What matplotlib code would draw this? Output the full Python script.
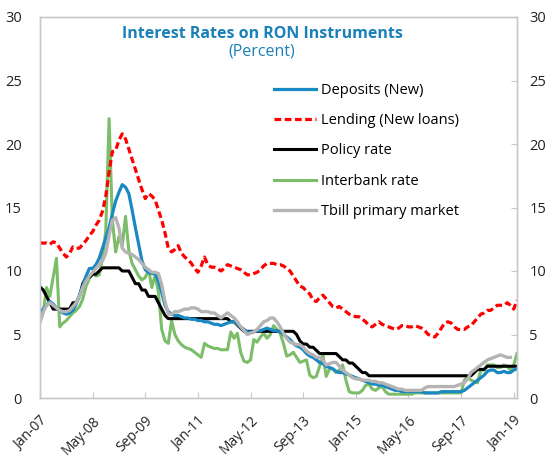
import numpy as np
import matplotlib
matplotlib.use("Agg")
import matplotlib.pyplot as plt

plt.rcParams["font.family"] = ["Open Sans", "DejaVu Sans"]

# Monthly observations, Jan-2007 .. Feb-2019
deposits = [
    6.8, 7.0, 7.3, 7.6, 7.4, 7.1, 6.9, 6.7, 6.6, 6.7, 6.9, 7.4, 8.1, 8.8, 9.6, 10.2,
    10.2, 10.5, 11.0, 11.8, 12.6, 13.4, 14.5, 15.5, 16.2, 16.8, 16.6, 16.1, 14.8, 13.4, 12.1, 10.8,
    10.1, 9.9, 9.8, 9.8, 9.2, 8.3, 7.3, 6.8, 6.6, 6.5, 6.5, 6.4, 6.3, 6.3, 6.2, 6.2,
    6.1, 6.1, 6.0, 6.0, 5.9, 5.8, 5.8, 5.7, 5.8, 5.9, 6.0, 6.0, 5.8, 5.6, 5.4, 5.2,
    5.2, 5.2, 5.3, 5.3, 5.4, 5.5, 5.4, 5.3, 5.3, 5.2, 5.0, 4.8, 4.6, 4.3, 4.1, 4.0,
    3.8, 3.5, 3.3, 3.2, 3.0, 2.8, 2.7, 2.5, 2.4, 2.3, 2.1, 2.0, 2.0, 1.9, 1.8, 1.7,
    1.6, 1.5, 1.4, 1.3, 1.2, 1.1, 1.1, 1.0, 1.0, 0.9, 0.8, 0.7, 0.6, 0.6, 0.5, 0.5,
    0.5, 0.5, 0.5, 0.5, 0.5, 0.4, 0.4, 0.4, 0.4, 0.4, 0.5, 0.5, 0.5, 0.5, 0.5, 0.5,
    0.5, 0.6, 0.8, 1.0, 1.2, 1.4, 1.6, 1.8, 2.1, 2.2, 2.2, 2.0, 2.0, 2.1, 2.0, 2.0,
    2.2, 2.3,
]

lending = [
    12.2, 12.2, 12.2, 12.1, 12.3, 12.2, 11.8, 11.4, 11.1, 11.4, 11.9, 11.8, 11.8, 12.1, 12.4, 12.8,
    13.1, 13.6, 14.0, 14.7, 15.9, 17.8, 19.4, 19.5, 20.3, 20.8, 20.4, 19.6, 18.8, 18.0, 17.2, 16.4,
    15.7, 16.1, 15.9, 15.6, 14.8, 14.0, 13.0, 11.8, 11.5, 11.7, 12.0, 11.4, 11.1, 10.9, 10.6, 10.2,
    9.9, 10.4, 11.1, 10.5, 10.3, 10.3, 10.2, 10.0, 10.2, 10.5, 10.4, 10.3, 10.2, 10.1, 9.9, 9.7,
    9.7, 9.8, 9.9, 10.1, 10.4, 10.6, 10.6, 10.6, 10.5, 10.5, 10.4, 10.2, 10.0, 9.6, 9.2, 8.8,
    8.7, 8.4, 8.2, 7.7, 7.6, 7.9, 8.1, 7.8, 7.5, 7.2, 7.1, 7.2, 7.0, 6.8, 6.6, 6.5,
    6.4, 6.4, 6.2, 6.0, 5.7, 5.6, 5.8, 6.0, 5.8, 5.7, 5.6, 5.5, 5.4, 5.5, 5.7, 5.7,
    5.6, 5.6, 5.7, 5.6, 5.5, 5.3, 5.0, 4.9, 4.8, 5.1, 5.5, 5.9, 6.0, 5.9, 5.6, 5.4,
    5.4, 5.4, 5.6, 5.7, 6.0, 6.3, 6.6, 6.7, 6.9, 6.9, 7.1, 7.3, 7.3, 7.3, 7.5, 7.3,
    7.0, 7.7,
]

policy = [
    8.75, 8.5, 8.0, 7.5, 7.0, 7.0, 7.0, 7.0, 7.0, 7.0, 7.5, 7.5, 8.0, 9.0, 9.5, 9.5,
    9.75, 9.75, 10.0, 10.25, 10.25, 10.25, 10.25, 10.25, 10.25, 10.0, 10.0, 10.0, 9.5, 9.0, 9.0, 8.5,
    8.5, 8.0, 8.0, 8.0, 7.5, 7.0, 6.5, 6.25, 6.25, 6.25, 6.25, 6.25, 6.25, 6.25, 6.25, 6.25,
    6.25, 6.25, 6.25, 6.25, 6.25, 6.25, 6.25, 6.25, 6.25, 6.25, 6.0, 6.0, 5.75, 5.5, 5.25, 5.25,
    5.25, 5.25, 5.25, 5.25, 5.25, 5.25, 5.25, 5.25, 5.25, 5.25, 5.25, 5.25, 5.25, 5.25, 5.0, 4.5,
    4.25, 4.25, 4.0, 4.0, 3.75, 3.5, 3.5, 3.5, 3.5, 3.5, 3.5, 3.25, 3.0, 3.0, 2.75, 2.75,
    2.5, 2.25, 2.0, 2.0, 1.75, 1.75, 1.75, 1.75, 1.75, 1.75, 1.75, 1.75, 1.75, 1.75, 1.75, 1.75,
    1.75, 1.75, 1.75, 1.75, 1.75, 1.75, 1.75, 1.75, 1.75, 1.75, 1.75, 1.75, 1.75, 1.75, 1.75, 1.75,
    1.75, 1.75, 1.75, 1.75, 2.0, 2.25, 2.25, 2.25, 2.5, 2.5, 2.5, 2.5, 2.5, 2.5, 2.5, 2.5,
    2.5, 2.5,
]

interbank = [
    6.0, 6.8, 8.7, 8.0, 9.5, 11.0, 5.6, 5.9, 6.1, 6.4, 6.7, 6.9, 7.2, 7.8, 8.8, 9.4,
    9.8, 9.6, 9.7, 11.0, 13.2, 22.0, 14.0, 11.5, 12.7, 12.0, 14.3, 11.6, 10.6, 10.1, 9.6, 9.3,
    9.5, 10.1, 8.7, 9.7, 8.3, 5.4, 4.5, 4.3, 6.1, 5.0, 4.5, 4.2, 4.0, 3.9, 3.8, 3.6,
    3.4, 3.2, 4.3, 4.1, 4.0, 3.9, 3.9, 3.8, 3.8, 3.8, 5.2, 4.7, 5.1, 3.6, 2.9, 2.8,
    3.0, 4.6, 4.4, 4.8, 5.1, 4.7, 5.0, 5.7, 5.4, 5.1, 4.3, 3.3, 3.4, 3.6, 3.2, 2.8,
    2.9, 3.0, 1.8, 1.6, 1.7, 2.5, 3.4, 1.7, 2.3, 2.3, 2.0, 2.2, 2.6, 1.4, 0.5, 0.4,
    0.4, 0.4, 0.6, 1.0, 1.1, 0.7, 0.6, 0.8, 0.9, 0.5, 0.3, 0.3, 0.3, 0.3, 0.3, 0.3,
    0.3, 0.3, 0.4, 0.4, 0.4, 0.4, 0.4, 0.4, 0.4, 0.4, 0.4, 0.4, 0.4, 0.4, 0.4, 0.4,
    0.4, 1.4, 1.7, 1.4, 1.3, 1.2, 2.2, 2.2, 2.6, 2.6, 2.6, 2.4, 2.4, 2.6, 2.5, 2.2,
    2.6, 3.5,
]

tbill = [
    6.0, 6.8, 7.3, 7.5, 7.3, 7.1, 6.9, 6.8, 6.8, 6.9, 7.2, 7.5, 8.0, 8.7, 9.2, 9.6,
    9.9, 10.2, 10.5, 10.8, 11.4, 12.8, 14.0, 14.2, 13.4, 11.8, 11.5, 11.4, 11.3, 11.1, 10.9, 10.6,
    10.3, 10.1, 9.9, 9.9, 9.8, 8.9, 7.6, 6.6, 6.6, 6.8, 6.8, 6.9, 7.0, 7.0, 7.1, 7.1,
    7.0, 6.8, 6.8, 6.8, 6.7, 6.7, 6.5, 6.3, 6.5, 6.7, 6.5, 6.3, 6.0, 5.6, 5.3, 5.0,
    5.1, 5.2, 5.4, 5.7, 6.0, 6.1, 6.3, 6.3, 6.0, 5.6, 5.1, 4.7, 4.4, 4.3, 4.2, 4.2,
    4.0, 3.7, 3.5, 3.4, 3.2, 3.2, 3.0, 2.6, 2.7, 2.8, 2.8, 2.5, 2.2, 2.0, 1.8, 1.6,
    1.5, 1.5, 1.4, 1.4, 1.4, 1.3, 1.3, 1.2, 1.2, 1.1, 1.0, 0.9, 0.8, 0.7, 0.7, 0.6,
    0.6, 0.6, 0.6, 0.6, 0.6, 0.8, 0.9, 0.9, 0.9, 0.9, 0.9, 0.9, 0.9, 0.9, 0.9, 1.0,
    1.1, 1.2, 1.5, 2.0, 2.2, 2.4, 2.6, 2.8, 3.0, 3.1, 3.2, 3.3, 3.4, 3.3, 3.2, 3.2,
    np.nan, np.nan,
]

series_labels = ["Deposits (New)", "Lending (New loans)", "Policy rate",
                 "Interbank rate", "Tbill primary market"]
x_tick_labels = ["Jan-07", "May-08", "Sep-09", "Jan-11", "May-12",
                 "Sep-13", "Jan-15", "May-16", "Sep-17", "Jan-19"]
y_ticks = [0, 5, 10, 15, 20, 25, 30]

months = np.arange(len(deposits))
title_color = "#1a80b9"
frame_color = "#c8c8c8"
text_color = "#222222"

fig = plt.figure(figsize=(5.5, 4.58), dpi=100)
ax = fig.add_axes([40 / 550, 1 - 398 / 458, 477 / 550, 381 / 458])

ax.plot(months, deposits, color="#1a88c2", lw=2.3, label=series_labels[0], zorder=4)
ax.plot(months, lending, color="#ff0000", lw=2.3, ls=(0, (2.1, 1.1)),
        label=series_labels[1], zorder=3)
ax.plot(months, policy, color="#000000", lw=2.2, label=series_labels[2], zorder=3)
ax.plot(months, interbank, color="#7bbd68", lw=2.2, label=series_labels[3], zorder=2)
ax.plot(months, tbill, color="#b4b4b4", lw=2.4, label=series_labels[4], zorder=5)

ax.set_xlim(0, len(months) - 1)
ax.set_ylim(0, 30)
ax.set_xticks(np.arange(0, 16 * len(x_tick_labels), 16))
ax.set_xticklabels(x_tick_labels, rotation=45, ha="right", va="top",
                   rotation_mode="anchor", fontsize=10, color=text_color)
ax.set_yticks(y_ticks)
ax.set_yticklabels([str(v) for v in y_ticks], fontsize=10.5, color=text_color)
ax.tick_params(axis="x", direction="in", length=4, color=frame_color, pad=11)
ax.tick_params(axis="y", length=0, pad=13)
for side in ax.spines.values():
    side.set_color(frame_color)
    side.set_linewidth(1.0)

ax2 = ax.twinx()
ax2.set_ylim(0, 30)
ax2.set_yticks(y_ticks)
ax2.set_yticklabels([str(v) for v in y_ticks], fontsize=10.5, color=text_color)
ax2.tick_params(axis="y", direction="in", length=4, color=frame_color, pad=9)
for side in ax2.spines.values():
    side.set_color(frame_color)
    side.set_linewidth(1.0)

fig.text(262 / 550, 1 - 34 / 458, "Interest Rates on RON Instruments",
         ha="center", va="center", fontsize=11.5, fontweight="bold", color=title_color)
fig.text(262 / 550, 1 - 52 / 458, "(Percent)", ha="center", va="center",
         fontsize=11.5, color=title_color)

ax.legend(loc="upper left", bbox_to_anchor=(228 / 477, 1 - 60 / 381), frameon=False,
          fontsize=10.5, handlelength=2.9, handletextpad=0.35, labelspacing=1.05,
          borderaxespad=0)

fig.savefig("out.png", dpi=100)
